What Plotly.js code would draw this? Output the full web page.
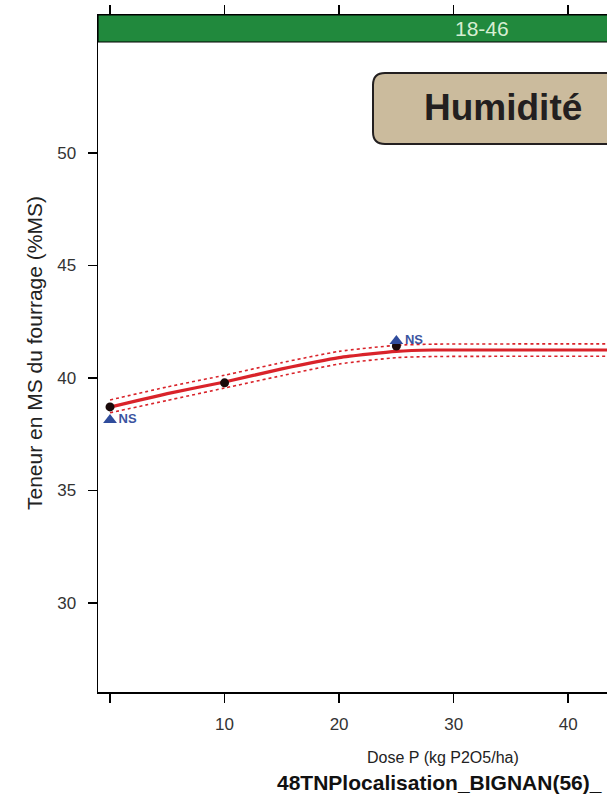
<!DOCTYPE html>
<html>
<head>
<meta charset="utf-8">
<script src="https://cdn.plot.ly/plotly-3.0.1.min.js"></script>
<style>
html,body{margin:0;padding:0;overflow:hidden;background:#fff;}
#chart{width:890px;height:798px;}
</style>
</head>
<body>
<div id="chart"></div>
<script>
// Observed means (black dots)
const doseObs = [0, 10, 25];
const valObs = [38.71, 39.78, 41.42];
// Triangle markers with significance labels
const doseTri = [0, 25];
const valTri = [38.13, 41.64];
const triLabels = ['NS', 'NS'];
// Fitted response curve
const doseFit = [0, 5, 10, 15, 20, 25, 28.2, 66];
const valFit = [38.70, 39.30, 39.82, 40.40, 40.90, 41.18, 41.24, 41.24];
const valUpper = [39.02, 39.60, 40.12, 40.68, 41.18, 41.45, 41.50, 41.50];
const valLower = [38.45, 39.00, 39.55, 40.10, 40.62, 40.90, 40.95, 40.95];
// Axis ticks
const xTicks = [0, 10, 20, 30, 40];
const xTickText = ['', '10', '20', '30', '40'];
const yTicks = [30, 35, 40, 45, 50];
const stripLabel = '18-46';
const boxLabel = 'Humidité';
const xTitle = 'Dose P (kg P2O5/ha)';
const subTitle = '48TNPlocalisation_BIGNAN(56)_';
const yTitle = 'Teneur en MS du fourrage (%MS)';

const FONT = 'Arial, "Liberation Sans", sans-serif';
const red = '#d9232a';

const traces = [
  {x: doseFit, y: valUpper, mode: 'lines', line: {color: red, width: 1.6, dash: 'dot', shape: 'spline', smoothing: 0.5}, hoverinfo: 'skip'},
  {x: doseFit, y: valLower, mode: 'lines', line: {color: red, width: 1.6, dash: 'dot', shape: 'spline', smoothing: 0.5}, hoverinfo: 'skip'},
  {x: doseFit, y: valFit, mode: 'lines', line: {color: red, width: 3.2, shape: 'spline', smoothing: 0.5}},
  {x: doseObs, y: valObs, mode: 'markers', marker: {color: '#1a0a0a', size: 9}},
  {x: doseTri, y: valTri, mode: 'markers+text', text: triLabels, textposition: 'middle right',
   textfont: {family: FONT, size: 13, color: '#3b54a0', weight: 'bold'},
   marker: {symbol: 'triangle-up', color: '#2f4c9c', size: 12}}
];

const axisStyle = {
  showline: true, linecolor: '#000', linewidth: 1.5, mirror: 'ticks',
  ticks: 'outside', ticklen: 9, tickwidth: 1.5, tickcolor: '#000',
  showgrid: false, zeroline: false,
  tickfont: {family: FONT, size: 17, color: '#333'}
};

const W = 890, H = 798, mL = 98, mR = 24, mT = 15, mB = 106;
const pw = W - mL - mR, ph = H - mT - mB;
const px = v => (v - mL) / pw;
const py = v => (H - mB - v) / ph;
const rx = 12 / pw, ry = 12 / ph;
const bx0 = px(373), bx1 = px(631), by0 = py(144), by1 = py(73);
const boxPath = `M ${bx0 + rx} ${by1} L ${bx1 - rx} ${by1} Q ${bx1} ${by1} ${bx1} ${by1 - ry} L ${bx1} ${by0 + ry} Q ${bx1} ${by0} ${bx1 - rx} ${by0} L ${bx0 + rx} ${by0} Q ${bx0} ${by0} ${bx0} ${by0 + ry} L ${bx0} ${by1 - ry} Q ${bx0} ${by1} ${bx0 + rx} ${by1} Z`;

const layout = {
  width: W, height: H,
  margin: {l: mL, r: mR, t: mT, b: mB, pad: 0},
  paper_bgcolor: '#fff', plot_bgcolor: '#fff',
  showlegend: false,
  font: {family: FONT},
  xaxis: Object.assign({}, axisStyle, {range: [-1.05, 66], tickvals: xTicks, ticktext: xTickText, ticklabelstandoff: 7}),
  yaxis: Object.assign({}, axisStyle, {range: [26.04, 56.13], tickvals: yTicks, ticklabelstandoff: 8}),
  shapes: [
    {type: 'rect', xref: 'paper', yref: 'paper', x0: 0, x1: 1, y0: py(42), y1: 1,
     fillcolor: '#21893d', line: {color: '#000', width: 1.2}, layer: 'above'},
    {type: 'path', xref: 'paper', yref: 'paper', path: boxPath,
     fillcolor: '#cbbb9d', line: {color: '#231f20', width: 2}, layer: 'above'}
  ],
  annotations: [
    {xref: 'paper', yref: 'paper', x: px(482), y: py(28.5), text: stripLabel, showarrow: false,
     xanchor: 'center', yanchor: 'middle', font: {family: FONT, size: 21, color: '#d6eed2'}},
    {xref: 'paper', yref: 'paper', x: px(503), y: py(108), text: '<b>' + boxLabel + '</b>', showarrow: false,
     xanchor: 'center', yanchor: 'middle', font: {family: FONT, size: 37, color: '#231f20'}},
    {xref: 'paper', yref: 'paper', x: px(443), y: py(757), text: xTitle, showarrow: false,
     xanchor: 'center', yanchor: 'middle', font: {family: FONT, size: 16, color: '#222'}},
    {xref: 'paper', yref: 'paper', x: px(275), y: py(782), text: '<b>' + subTitle + '</b>', showarrow: false,
     xanchor: 'left', yanchor: 'middle', font: {family: FONT, size: 21, color: '#111'}},
    {xref: 'paper', yref: 'paper', x: px(35), y: py(353), text: yTitle, showarrow: false, textangle: -90,
     xanchor: 'center', yanchor: 'middle', font: {family: FONT, size: 21, color: '#222'}}
  ]
};

Plotly.newPlot('chart', traces, layout, {staticPlot: true, displayModeBar: false});
</script>
</body>
</html>
